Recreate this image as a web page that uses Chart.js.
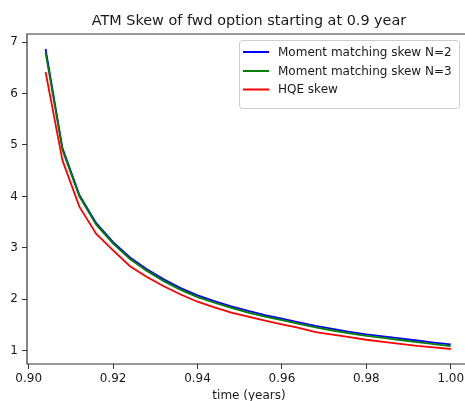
<!DOCTYPE html>
<html>
<head>
<meta charset="utf-8">
<script src="https://cdn.jsdelivr.net/npm/chart.js@4/dist/chart.umd.min.js"></script>
<style>
  html, body { margin: 0; padding: 0; background: #fff; overflow: hidden; }
  #wrap { position: absolute; left: 0; top: 0; width: 480px; height: 410px; }
  canvas { display: block; }
</style>
</head>
<body>
<div id="wrap"><canvas id="chart" width="480" height="410" style="width:480px;height:410px"></canvas></div>
<script>
// Forward-start time grid (years)
const times = [0.904, 0.908, 0.912, 0.916, 0.920, 0.924, 0.928, 0.932, 0.936, 0.940,
               0.944, 0.948, 0.952, 0.956, 0.960, 0.964, 0.968, 0.972, 0.976, 0.980,
               0.984, 0.988, 0.992, 0.996, 1.000];

// ATM skew per method
const skewN2  = [6.87, 4.94, 4.03, 3.48, 3.11, 2.81, 2.58, 2.385, 2.215, 2.075,
                 1.96, 1.86, 1.77, 1.69, 1.62, 1.55, 1.48, 1.42, 1.365, 1.315,
                 1.275, 1.235, 1.195, 1.155, 1.12];
const skewN3  = [6.80, 4.90, 4.00, 3.45, 3.08, 2.78, 2.55, 2.35, 2.18, 2.04,
                 1.93, 1.83, 1.74, 1.66, 1.59, 1.52, 1.45, 1.39, 1.335, 1.285,
                 1.245, 1.205, 1.165, 1.125, 1.085];
const skewHQE = [6.42, 4.70, 3.80, 3.27, 2.95, 2.64, 2.43, 2.25, 2.09, 1.95,
                 1.84, 1.74, 1.66, 1.58, 1.51, 1.44, 1.36, 1.31, 1.26, 1.21,
                 1.17, 1.13, 1.09, 1.06, 1.03];

const seriesNames  = ['Moment matching skew N=2', 'Moment matching skew N=3', 'HQE skew'];
const seriesColors = ['#0000ff', '#008000', '#ff0000'];

const xTicks = [0.90, 0.92, 0.94, 0.96, 0.98, 1.00];
const yTicks = [1, 2, 3, 4, 5, 6, 7];

const chartTitle = 'ATM Skew of fwd option starting at 0.9 year';

const FONT = 'DejaVu Sans';
const TEXT = '#1a1a1a';
const AXIS = '#333333';

function toPoints(ys) {
  return times.map((t, i) => ({ x: t, y: ys[i] }));
}

const allSeries = [skewN2, skewN3, skewHQE];
const datasets = allSeries.map((ys, i) => ({
  label: seriesNames[i],
  data: toPoints(ys),
  borderColor: seriesColors[i],
  backgroundColor: seriesColors[i],
  borderWidth: 1.8,
  pointRadius: 0,
  tension: 0,
  fill: false,
  order: 3 - i   // later series painted over earlier ones
}));

// Axes frame: left, bottom and top spines, plus the title centred over the plot area
const frame = {
  id: 'frame',
  afterDraw(chart) {
    const { ctx, chartArea: a } = chart;
    ctx.save();
    ctx.strokeStyle = AXIS;
    ctx.lineWidth = 1.2;
    ctx.beginPath();
    ctx.moveTo(a.right, a.top);
    ctx.lineTo(a.left, a.top);
    ctx.lineTo(a.left, a.bottom);
    ctx.lineTo(a.right, a.bottom);
    ctx.stroke();

    ctx.fillStyle = TEXT;
    ctx.font = '14.4px "' + FONT + '"';
    ctx.textAlign = 'center';
    ctx.textBaseline = 'middle';
    ctx.fillText(chartTitle, (a.left + a.right) / 2, 21.5);
    ctx.restore();
  }
};

// Boxed legend in the upper-right corner of the plot
const boxLegend = {
  id: 'boxLegend',
  afterDatasetsDraw(chart) {
    const { ctx } = chart;
    const bx = 239.5, by = 40.5, bw = 220, bh = 68, r = 3;
    ctx.save();
    ctx.beginPath();
    ctx.moveTo(bx + r, by);
    ctx.lineTo(bx + bw - r, by);
    ctx.arcTo(bx + bw, by, bx + bw, by + r, r);
    ctx.lineTo(bx + bw, by + bh - r);
    ctx.arcTo(bx + bw, by + bh, bx + bw - r, by + bh, r);
    ctx.lineTo(bx + r, by + bh);
    ctx.arcTo(bx, by + bh, bx, by + bh - r, r);
    ctx.lineTo(bx, by + r);
    ctx.arcTo(bx, by, bx + r, by, r);
    ctx.closePath();
    ctx.fillStyle = 'rgba(255,255,255,0.8)';
    ctx.fill();
    ctx.strokeStyle = '#cccccc';
    ctx.lineWidth = 1;
    ctx.stroke();

    const rows = [52, 71, 89.5];
    chart.data.datasets.forEach((ds, i) => {
      const y = rows[i];
      ctx.beginPath();
      ctx.moveTo(243, y);
      ctx.lineTo(269, y);
      ctx.strokeStyle = ds.borderColor;
      ctx.lineWidth = 2;
      ctx.stroke();
      ctx.fillStyle = TEXT;
      ctx.font = '12px "' + FONT + '"';
      ctx.textBaseline = 'middle';
      ctx.textAlign = 'left';
      ctx.fillText(ds.label, 278, y + 0.5);
    });
    ctx.restore();
  }
};

new Chart(document.getElementById('chart'), {
  type: 'line',
  data: { datasets },
  plugins: [frame, boxLegend],
  options: {
    responsive: false,
    animation: false,
    devicePixelRatio: 1,
    layout: { padding: { top: 34, left: 0, right: 9, bottom: 0 } },
    plugins: {
      legend: { display: false },
      tooltip: { enabled: false },
      title: { display: false }
    },
    scales: {
      x: {
        type: 'linear',
        min: 0.8996,
        max: 1.0048,
        afterBuildTicks(scale) { scale.ticks = xTicks.map(v => ({ value: v })); },
        afterFit(scale) {
          scale.height = 46;
          scale.paddingLeft = 0;
          scale.paddingRight = 0;
        },
        ticks: {
          color: TEXT,
          font: { family: FONT, size: 12 },
          padding: 3,
          maxRotation: 0,
          autoSkip: false,
          callback: v => Number(v).toFixed(2)
        },
        grid: { display: true, drawOnChartArea: false, drawTicks: true, tickLength: 5, color: AXIS, tickWidth: 1 },
        border: { display: false },
        title: {
          display: true,
          text: 'time (years)',
          color: TEXT,
          font: { family: FONT, size: 12 },
          padding: { top: 0, bottom: 6.8 }
        }
      },
      y: {
        type: 'linear',
        min: 0.738,
        max: 7.16,
        afterBuildTicks(scale) { scale.ticks = yTicks.map(v => ({ value: v })); },
        afterFit(scale) { scale.width = 27; },
        ticks: {
          color: TEXT,
          font: { family: FONT, size: 12 },
          padding: 4,
          autoSkip: false,
          callback: v => String(v)
        },
        grid: { display: true, drawOnChartArea: false, drawTicks: true, tickLength: 5, color: AXIS, tickWidth: 1 },
        border: { display: false }
      }
    }
  }
});
</script>
</body>
</html>
